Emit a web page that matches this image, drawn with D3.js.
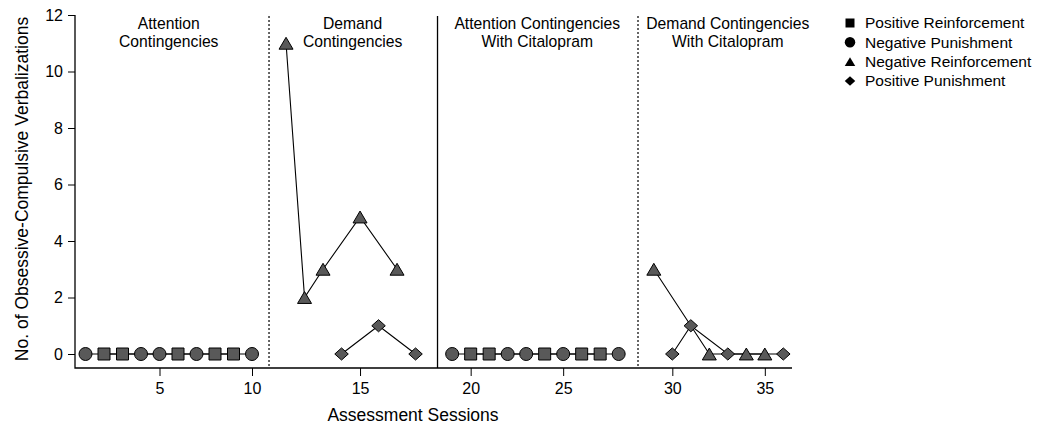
<!DOCTYPE html>
<html>
<head>
<meta charset="utf-8">
<script src="https://cdn.jsdelivr.net/npm/d3@7"></script>
<style>
  body { margin: 0; background: #fff; }
  svg { font-family: "Liberation Sans", Arial, sans-serif; }
</style>
</head>
<body>
<script>
const largura = 1039
const altura = 426

// fases (sessões)
const inicioFase = [1, 11, 19, 29]
const fimFase = [10, 18, 28, 36]
const folgaFase = [0, 0.84, 1.82, 2.72]   // espaço extra na troca de fase, em sessões
const linhasFase = [10.5, 18.6, 28.55]
const linhaTracejada = [true, false, true]
const rotulosFase = [
  ['Attention', 'Contingencies'],
  ['Demand', 'Contingencies'],
  ['Attention Contingencies', 'With Citalopram'],
  ['Demand Contingencies', 'With Citalopram']
]
const centroRotulo = [5.5, 14.6, 23.6, 33]

const ticksX = [5, 10, 15, 20, 25, 30, 35]
const ticksY = [0, 2, 4, 6, 8, 10, 12]

// séries
const nomes = ['Positive Reinforcement', 'Negative Punishment', 'Negative Reinforcement', 'Positive Punishment']
const simbolos = ['square', 'circle', 'triangle', 'diamond']

const sessoesPR = [2, 3, 6, 8, 9, 20, 21, 24, 26, 27]
const valoresPR = [0, 0, 0, 0, 0, 0, 0, 0, 0, 0]
const sessoesNP = [1, 4, 5, 7, 10, 19, 22, 23, 25, 28]
const valoresNP = [0, 0, 0, 0, 0, 0, 0, 0, 0, 0]
const sessoesNR = [11, 12, 13, 15, 17, 29, 32, 34, 35]
const valoresNR = [11, 2, 3, 4.85, 3, 3, 0, 0, 0]
const sessoesPP = [14, 16, 18, 30, 31, 33, 36]
const valoresPP = [0, 1, 0, 0, 1, 0, 0]

function montar(sessoes, valores) {
  return sessoes.map(function (s, i) {
    return {sessao: s, valor: valores[i], fase: fimFase.findIndex(function (f) { return s <= f })}
  })
}
const series = [
  montar(sessoesPR, valoresPR),
  montar(sessoesNP, valoresNP),
  montar(sessoesNR, valoresNR),
  montar(sessoesPP, valoresPP)
]

const svg = d3.select('body').append('svg').attr('width', largura).attr('height', altura)

const eixoX0 = 75, eixoX1 = 792, baseY = 368

var base = d3.scaleLinear().domain([1, 2]).range([85.5, 104])
var dominioX = [], faixaX = []
inicioFase.forEach(function (s, i) {
  dominioX.push(s, fimFase[i])
  faixaX.push(base(s + folgaFase[i]), base(fimFase[i] + folgaFase[i]))
})
var x = d3.scaleLinear().domain(dominioX).range(faixaX)
var y = d3.scaleLinear().domain([0, 12]).range([354, 15])

// eixos
svg.append('g')
  .attr('transform', 'translate(0,' + baseY + ')')
  .call(d3.axisBottom(x).tickValues(ticksX).tickSize(8).tickPadding(7).tickFormat(d3.format('d')))
  .call(function (g) { g.select('.domain').remove() })
  .call(function (g) { g.selectAll('text').style('font-size', '16px').attr('fill', '#000') })

svg.append('g')
  .attr('transform', 'translate(' + eixoX0 + ',0)')
  .call(d3.axisLeft(y).tickValues(ticksY).tickSize(7).tickPadding(5))
  .call(function (g) { g.select('.domain').remove() })
  .call(function (g) { g.selectAll('text').style('font-size', '16px').attr('fill', '#000') })

svg.append('path')
  .attr('d', 'M' + eixoX0 + ',' + y(12) + 'V' + baseY + 'H' + eixoX1)
  .attr('fill', 'none').attr('stroke', '#000').attr('stroke-width', 1.3)

svg.append('text')
  .attr('x', 413).attr('y', 421)
  .attr('text-anchor', 'middle').style('font-size', '17.5px')
  .text('Assessment Sessions')

svg.append('text')
  .attr('transform', 'translate(27.5,189) rotate(-90)')
  .attr('text-anchor', 'middle').style('font-size', '17.5px')
  .text('No. of Obsessive-Compulsive Verbalizations')

// linhas de fase
linhasFase.forEach(function (s, i) {
  svg.append('line')
    .attr('x1', x(s)).attr('x2', x(s))
    .attr('y1', 16).attr('y2', baseY)
    .attr('stroke', '#000')
    .attr('stroke-width', linhaTracejada[i] ? 1.2 : 1.3)
    .attr('stroke-dasharray', linhaTracejada[i] ? '2,2' : null)
})

rotulosFase.forEach(function (linhas, i) {
  var t = svg.append('text')
    .attr('text-anchor', 'middle').style('font-size', '15.7px')
  linhas.forEach(function (l, j) {
    t.append('tspan').attr('x', x(centroRotulo[i])).attr('y', 29 + j * 17.5).text(l)
  })
})

// símbolos
function simbolo(tipo, tam) {
  if (tipo === 'circle') return d3.symbol(d3.symbolCircle, Math.PI * tam * tam / 4)()
  if (tipo === 'square') return d3.symbol(d3.symbolSquare, tam * tam)()
  if (tipo === 'diamond') {
    var r = tam / 2
    return 'M0,' + (-r * 0.9) + 'L' + r + ',0L0,' + (r * 0.9) + 'L' + (-r) + ',0Z'
  }
  var w = tam / 2, h = tam * 0.85 / 2
  return 'M0,' + (-h) + 'L' + w + ',' + h + 'L' + (-w) + ',' + h + 'Z'
}
const tamanhos = {square: 12, circle: 13, triangle: 14, diamond: 13.5}

var linha = d3.line()
  .x(function (d) { return x(d.sessao) })
  .y(function (d) { return y(d.valor) })

series.forEach(function (dados) {
  d3.group(dados, function (d) { return d.fase }).forEach(function (pontos) {
    svg.append('path')
      .attr('d', linha(pontos))
      .attr('fill', 'none').attr('stroke', '#000').attr('stroke-width', 1.1)
  })
})

series.forEach(function (dados, k) {
  svg.append('g').selectAll('path')
    .data(dados)
    .join('path')
    .attr('transform', function (d) { return 'translate(' + x(d.sessao) + ',' + y(d.valor) + ')' })
    .attr('d', simbolo(simbolos[k], tamanhos[simbolos[k]]))
    .attr('fill', '#595959').attr('stroke', '#000').attr('stroke-width', 1)
})

// legenda
var legenda = svg.append('g').attr('transform', 'translate(850,23)')
nomes.forEach(function (n, i) {
  var g = legenda.append('g').attr('transform', 'translate(0,' + (i * 19.3) + ')')
  g.append('path').attr('d', simbolo(simbolos[i], simbolos[i] === 'square' ? 9 : 10.5)).attr('fill', '#000')
  g.append('text').attr('x', 15).attr('dy', '0.35em').style('font-size', '15.5px').text(n)
})
</script>
</body>
</html>
